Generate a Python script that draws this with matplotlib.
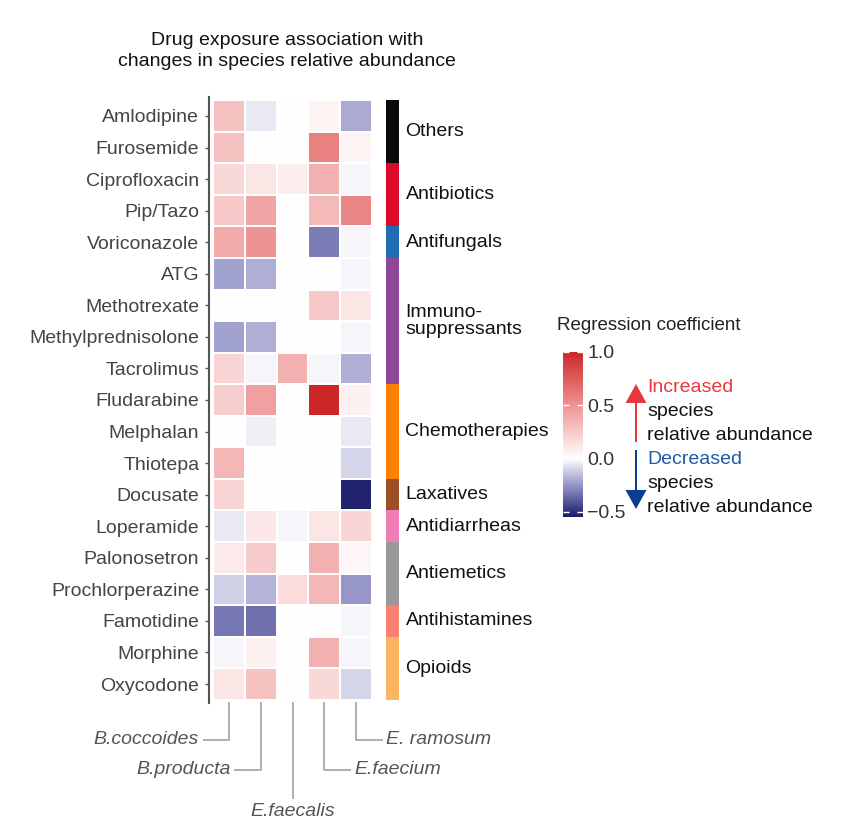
import matplotlib

matplotlib.use("Agg")

import matplotlib.pyplot as plt
import numpy as np
from matplotlib.colors import LinearSegmentedColormap, Normalize
from matplotlib.patches import FancyArrow
from matplotlib.transforms import blended_transform_factory

plt.rcParams["font.family"] = ["Liberation Sans", "DejaVu Sans"]

drugs = [
    "Amlodipine", "Furosemide", "Ciprofloxacin", "Pip/Tazo", "Voriconazole",
    "ATG", "Methotrexate", "Methylprednisolone", "Tacrolimus", "Fludarabine",
    "Melphalan", "Thiotepa", "Docusate", "Loperamide", "Palonosetron",
    "Prochlorperazine", "Famotidine", "Morphine", "Oxycodone",
]
species = ["B.coccoides", "B.producta", "E.faecalis", "E.faecium", "E. ramosum"]

# regression coefficients, rows follow `drugs`, columns follow `species`
coefficients = [
    [0.29, -0.05, 0.00, 0.05, -0.20],
    [0.29, 0.00, 0.00, 0.58, 0.06],
    [0.18, 0.12, 0.08, 0.37, -0.02],
    [0.25, 0.41, 0.00, 0.32, 0.56],
    [0.39, 0.50, 0.00, -0.31, -0.02],
    [-0.22, -0.19, 0.00, 0.00, -0.02],
    [0.00, 0.00, 0.00, 0.25, 0.12],
    [-0.22, -0.19, 0.00, 0.00, -0.02],
    [0.20, -0.02, 0.37, -0.02, -0.19],
    [0.23, 0.44, 0.00, 1.00, 0.07],
    [0.00, -0.04, 0.00, 0.00, -0.05],
    [0.34, 0.00, 0.00, 0.00, -0.10],
    [0.20, 0.00, 0.00, 0.00, -0.53],
    [-0.05, 0.11, -0.02, 0.12, 0.20],
    [0.10, 0.24, 0.00, 0.37, 0.04],
    [-0.11, -0.18, 0.16, 0.33, -0.25],
    [-0.32, -0.34, 0.00, 0.00, -0.02],
    [-0.02, 0.07, 0.00, 0.37, -0.02],
    [0.12, 0.29, 0.00, 0.18, -0.10],
]

categories = [
    "Others", "Antibiotics", "Antifungals", "Immuno-\nsuppressants", "Chemotherapies",
    "Laxatives", "Antidiarrheas", "Antiemetics", "Antihistamines", "Opioids",
]
category_sizes = [2, 2, 1, 4, 3, 1, 1, 2, 1, 2]
category_colors = [
    "#0a0a0a", "#dc0a2a", "#1f6db2", "#8f479a", "#ff7f00",
    "#9c4f22", "#f07db5", "#999999", "#fa8072", "#fdb462",
]

cbar_ticks = [-0.5, 0.0, 0.5, 1.0]
cbar_ticklabels = ["\u22120.5", "0.0", "0.5", "1.0"]

VMIN, VMAX = -0.55, 1.0
W, H = 865, 827


def fig_rect(x0, y0, x1, y1):
    # pixel box (top-left origin) -> figure fraction rect
    return [x0 / W, 1 - y1 / H, (x1 - x0) / W, (y1 - y0) / H]


values = np.asarray(coefficients, dtype=float)
n_rows, n_cols = values.shape

white_pos = -VMIN / (VMAX - VMIN)
cmap = LinearSegmentedColormap.from_list(
    "navy_white_red",
    [
        (0.0, "#191c69"),
        (white_pos / 2, "#8c8cc3"),
        (white_pos, "#ffffff"),
        ((1 + white_pos) / 2, "#ee9393"),
        (1.0, "#cd2626"),
    ],
)
norm = Normalize(vmin=VMIN, vmax=VMAX)

fig = plt.figure(figsize=(W / 100, H / 100), dpi=100)

# main heatmap
ax = fig.add_axes(fig_rect(209, 97, 372, 703))
ax.pcolormesh(
    np.arange(n_cols + 1), np.arange(n_rows + 1), values,
    cmap=cmap, norm=norm, edgecolors="white", linewidth=0.3,
)
ax.set_xlim(-0.13, n_cols)
ax.set_ylim(n_rows + 0.1, -0.1)
ax.set_yticks(np.arange(n_rows) + 0.5)
ax.set_yticklabels(drugs, fontsize=14, color="#444444")
ax.set_xticks([])
ax.tick_params(axis="y", length=3, width=1, color="#555555", pad=4)
for side in ["top", "right", "bottom"]:
    ax.spines[side].set_visible(False)
ax.spines["left"].set_color("#555555")
ax.spines["left"].set_linewidth(1.5)

fig.text(287 / W, 1 - 51 / H,
         "Drug exposure association with\nchanges in species relative abundance",
         ha="center", va="center", fontsize=14, color="#111111", linespacing=1.3)

# species leader lines and labels
trans = blended_transform_factory(ax.transData, fig.transFigure)
leader_color = "#b5aea4"
species_layout = [(740, -1), (770, -1), (798, 0), (770, 1), (740, 1)]
y_start = 1 - 703 / H
for col, (name, (bend_px, side)) in enumerate(zip(species, species_layout)):
    xc = col + 0.5
    yb = 1 - bend_px / H
    if side == 0:
        ax.plot([xc, xc], [y_start, yb], transform=trans, color=leader_color,
                lw=1.4, clip_on=False)
        ax.text(xc, 1 - 811 / H, name, transform=trans, ha="center", va="center",
                fontsize=14, style="italic", color="#555555")
    else:
        xe = xc + side * 0.8
        ax.plot([xc, xc, xe], [y_start, yb, yb], transform=trans, color=leader_color,
                lw=1.4, clip_on=False)
        ax.text(xe + side * 0.15, yb, name, transform=trans,
                ha="left" if side > 0 else "right", va="center",
                fontsize=14, style="italic", color="#555555")

# drug class bar
cax_cat = fig.add_axes(fig_rect(386, 97, 399, 703))
bottoms = np.concatenate([[0], np.cumsum(category_sizes)[:-1]])
cax_cat.bar(np.zeros(len(category_sizes)), category_sizes, bottom=bottoms,
            width=1.0, color=category_colors, linewidth=0)
cax_cat.set_xlim(-0.5, 0.5)
cax_cat.set_ylim(n_rows + 0.1, -0.1)
cax_cat.axis("off")
for name, b, size in zip(categories, bottoms, category_sizes):
    cax_cat.text(1.0, b + size / 2, name, ha="left", va="center", fontsize=14,
                 color="#111111", linespacing=0.95)

# colorbar
cbax = fig.add_axes(fig_rect(563, 352, 583, 517))
sm = plt.cm.ScalarMappable(norm=norm, cmap=cmap)
cb = fig.colorbar(sm, cax=cbax, ticks=cbar_ticks)
cb.ax.set_yticklabels(cbar_ticklabels)
cb.outline.set_visible(False)
cb.ax.tick_params(length=4, width=1, color="white", direction="in",
                  labelsize=14, labelcolor="#333333", pad=3)
cb.ax.tick_params(left=True, direction="in")
fig.text(557 / W, 1 - 326 / H, "Regression coefficient", ha="left", va="center",
         fontsize=13.5, color="#222222")

# direction arrows and notes
ov = fig.add_axes([0, 0, 1, 1])
ov.set_xlim(0, W)
ov.set_ylim(H, 0)
ov.axis("off")
ov.add_patch(FancyArrow(636, 442, 0, -58, width=2, head_width=21, head_length=19,
                        length_includes_head=True, color="#e8383d", lw=0))
ov.add_patch(FancyArrow(636, 450, 0, 59, width=2, head_width=21, head_length=19,
                        length_includes_head=True, color="#0b3d91", lw=0))
notes = [
    ("Increased", 387, "#e8383d"), ("species", 411, "#111111"),
    ("relative abundance", 435, "#111111"),
    ("Decreased", 459, "#1f5aa8"), ("species", 483, "#111111"),
    ("relative abundance", 507, "#111111"),
]
for txt, yp, colr in notes:
    ov.text(647, yp, txt, ha="left", va="center", fontsize=14, color=colr)

fig.savefig("out.png", dpi=100)
plt.close(fig)
